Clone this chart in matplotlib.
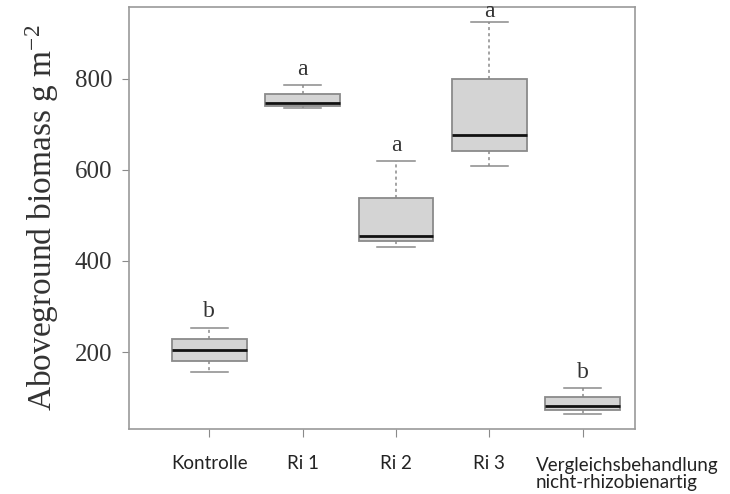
import matplotlib.pyplot as plt
from matplotlib.transforms import blended_transform_factory

groups = ['Kontrolle', 'Ri 1', 'Ri 2', 'Ri 3', 'Vergleichsbehandlung\nnicht-rhizobienartig']
whisker_low = [156, 736, 431, 609, 64]
q1 = [180, 741, 444, 642, 73]
medians = [204, 747, 455, 677, 81]
q3 = [229, 767, 539, 800, 101]
whisker_high = [253, 787, 620, 925, 121]
letters = ['b', 'a', 'a', 'a', 'b']
letter_y = [288, 820, 653, 947, 156]

edge = '#8a8a8a'

plt.rcParams['mathtext.fontset'] = 'custom'
plt.rcParams['mathtext.rm'] = 'Liberation Serif'
plt.rcParams['mathtext.it'] = 'Liberation Serif:italic'

fig = plt.figure(figsize=(7.3, 4.94), dpi=100)
ax = fig.add_axes([0.1767, 0.1316, 0.6932, 0.8543])

stats = []
for i, name in enumerate(groups):
    stats.append({'label': name, 'whislo': whisker_low[i], 'q1': q1[i],
                  'med': medians[i], 'q3': q3[i], 'whishi': whisker_high[i],
                  'fliers': []})

pos = list(range(1, len(groups) + 1))
ax.bxp(stats, positions=pos, widths=0.8, capwidths=0.4, patch_artist=True,
       showfliers=False,
       boxprops=dict(facecolor='#d4d4d4', edgecolor=edge, linewidth=1.3),
       medianprops=dict(color='#111111', linewidth=2.0),
       whiskerprops=dict(color=edge, linewidth=1.1, linestyle=(0, (2, 2))),
       capprops=dict(color=edge, linewidth=1.1))

for p, l, y in zip(pos, letters, letter_y):
    ax.text(p, y, l, ha='center', va='center', fontsize=17,
            family='Liberation Serif', color='#333333')

ax.set_xlim(0.14, 5.56)
ax.set_ylim(31, 958)
ax.set_yticks([200, 400, 600, 800])
ax.set_yticklabels(['200', '400', '600', '800'], family='Liberation Serif',
                   fontsize=18, color='#333333')
ax.set_ylabel('Aboveground biomass g m$^{\\mathrm{-2}}$', family='Liberation Serif',
              fontsize=24, color='#333333', labelpad=10)

ax.set_xticks(pos)
ax.set_xticklabels(groups[:4] + [''], family='Lato', fontsize=13.5, color='#222222')
trans = blended_transform_factory(ax.transData, ax.transAxes)
ax.annotate(groups[4], xy=(pos[4], 0), xycoords=trans, xytext=(-34, -20),
            textcoords='offset points', ha='left', va='top', family='Lato',
            fontsize=13.5, color='#222222', linespacing=1.0)

ax.tick_params(axis='x', length=6, color=edge, pad=13)
ax.tick_params(axis='y', length=5, color=edge, pad=7)
for s in ax.spines.values():
    s.set_color('#9a9a9a')
    s.set_linewidth(1.2)

fig.savefig('out.png', dpi=100)
